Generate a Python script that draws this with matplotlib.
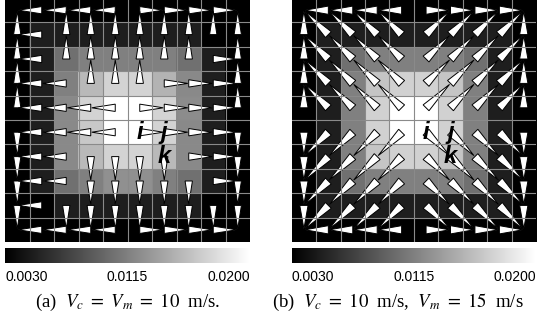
import numpy as np
import matplotlib.pyplot as plt
from matplotlib.patches import Polygon
from matplotlib.colors import Normalize
import matplotlib.cm as cm

plt.rcParams['mathtext.fontset'] = 'stix'

# per-cell values (row 0 = top), read from the grey levels
load_a = [
    [0.0030] * 10,
    [0.0030, 0.0050, 0.0050, 0.0050, 0.0050, 0.0050, 0.0050, 0.0050, 0.0030, 0.0030],
    [0.0030, 0.0050, 0.0105, 0.0115, 0.0115, 0.0115, 0.0115, 0.0105, 0.0050, 0.0030],
    [0.0030, 0.0050, 0.0115, 0.0153, 0.0171, 0.0171, 0.0150, 0.0121, 0.0050, 0.0030],
    [0.0030, 0.0050, 0.0121, 0.0171, 0.0200, 0.0200, 0.0171, 0.0123, 0.0050, 0.0030],
    [0.0030, 0.0050, 0.0121, 0.0163, 0.0200, 0.0200, 0.0171, 0.0121, 0.0050, 0.0030],
    [0.0030, 0.0050, 0.0121, 0.0153, 0.0171, 0.0171, 0.0153, 0.0121, 0.0050, 0.0030],
    [0.0030, 0.0050, 0.0105, 0.0115, 0.0126, 0.0126, 0.0115, 0.0105, 0.0050, 0.0030],
    [0.0030, 0.0030, 0.0050, 0.0050, 0.0050, 0.0050, 0.0050, 0.0050, 0.0030, 0.0030],
    [0.0030] * 10,
]
load_b = [
    [0.0030] * 10,
    [0.0030, 0.0050, 0.0050, 0.0050, 0.0050, 0.0050, 0.0050, 0.0050, 0.0050, 0.0030],
    [0.0030, 0.0050, 0.0105, 0.0115, 0.0115, 0.0115, 0.0115, 0.0105, 0.0050, 0.0030],
    [0.0030, 0.0050, 0.0115, 0.0161, 0.0169, 0.0169, 0.0161, 0.0115, 0.0050, 0.0030],
    [0.0030, 0.0050, 0.0115, 0.0169, 0.0200, 0.0200, 0.0169, 0.0115, 0.0050, 0.0030],
    [0.0030, 0.0050, 0.0115, 0.0169, 0.0200, 0.0200, 0.0169, 0.0115, 0.0050, 0.0030],
    [0.0030, 0.0050, 0.0115, 0.0161, 0.0169, 0.0169, 0.0161, 0.0115, 0.0050, 0.0030],
    [0.0030, 0.0050, 0.0105, 0.0115, 0.0115, 0.0115, 0.0115, 0.0105, 0.0050, 0.0030],
    [0.0030, 0.0050, 0.0050, 0.0050, 0.0050, 0.0050, 0.0050, 0.0050, 0.0050, 0.0030],
    [0.0030] * 10,
]

# next hop of every cell: L R U D, numpad digits for diagonals, '.' = sink
dirs_a = [
    ".LLLLRRRR.",
    "ULUUUUUUUU",
    "ULUUUUUURU",
    "ULLUUURRRU",
    "ULLLLRRRRU",
    "DLLLLRRRRD",
    "DLLDDDDRRD",
    "DLLDDDDDRD",
    "DLDDDDDDDD",
    ".LLLLRRRR.",
]
dirs_b = [
    ".LLLLRRRR.",
    "U77779999U",
    "U77779999U",
    "U77779999U",
    "U77779999U",
    "D11113333D",
    "D11113333D",
    "D11113333D",
    "D11113333D",
    ".LLLLRRRR.",
]

ticks = [0.0030, 0.0115, 0.0200]
tick_labels = ['0.0030', '0.0115', '0.0200']
captions = [r'(a)  $V_c\ =\ V_m\ =\ 10$  m/s.', r'(b)  $V_c\ =\ 10$  m/s,  $V_m\ =\ 15$  m/s']
node_names = ['i', 'j', 'k']
node_cells = [(5, 5), (5, 6), (6, 6)]
vmin, vmax = 0.003, 0.02

STEP = {'L': (-1, 0), 'R': (1, 0), 'U': (0, -1), 'D': (0, 1),
        '7': (-1, -1), '9': (1, -1), '1': (-1, 1), '3': (1, 1)}

W, H = 539, 328
fig = plt.figure(figsize=(W / 100, H / 100), dpi=100)


def box(x0, y0, x1, y1):
    # pixel box (top-left origin) -> figure fraction
    return [x0 / W, 1 - y1 / H, (x1 - x0) / W, (y1 - y0) / H]


def draw_panel(ax, vals, dirs, hw):
    ax.imshow(np.array(vals), cmap='gray', vmin=vmin, vmax=vmax,
              interpolation='nearest', extent=(-0.5, 9.5, 9.5, -0.5), aspect='auto')
    for k in range(1, 10):
        ax.axvline(k - 0.5, color='#8a8a8a', lw=0.8)
        ax.axhline(k - 0.5, color='#8a8a8a', lw=0.8)
    for r, row in enumerate(dirs):
        for c, d in enumerate(row):
            if d == '.':
                continue
            dx, dy = STEP[d]
            n = np.hypot(dx, dy)
            px, py = -dy / n * hw, dx / n * hw
            tip = (c + dx * 0.96, r + dy * 0.96)
            verts = [(c + px, r + py), tip, (c - px, r - py)]
            ax.add_patch(Polygon(verts, closed=True, fc='white', ec='black', lw=0.7))
    for name, (r, c) in zip(node_names, node_cells):
        ax.text(c, r, name, ha='center', va='center', fontsize=17,
                fontweight='bold', fontstyle='italic', family='Liberation Sans')
    ax.set_xlim(-0.5, 9.5)
    ax.set_ylim(9.5, -0.5)
    ax.axis('off')


def draw_cbar(x0, x1):
    cax = fig.add_axes(box(x0, 248, x1, 263))
    sm = cm.ScalarMappable(norm=Normalize(vmin, vmax), cmap='gray')
    cb = fig.colorbar(sm, cax=cax, orientation='horizontal')
    cb.outline.set_visible(False)
    cb.set_ticks(ticks, labels=tick_labels)
    cax.tick_params(length=0, pad=5, labelsize=10)
    labs = cax.get_xticklabels()
    for t in labs:
        t.set_family('Liberation Sans')
    labs[0].set_ha('left')
    labs[-1].set_ha('right')


ax_a = fig.add_axes(box(5, -2, 250, 242))
draw_panel(ax_a, load_a, dirs_a, 0.15)
ax_b = fig.add_axes(box(291.7, -2, 536, 242))
draw_panel(ax_b, load_b, dirs_b, 0.17)

draw_cbar(5, 250)
draw_cbar(291.7, 536)

fig.text(127.5 / W, 1 - 302 / H, captions[0], ha='center', va='center',
         fontsize=13.5, family='Liberation Serif')
fig.text(272 / W, 1 - 302 / H, captions[1], ha='left', va='center',
         fontsize=13.5, family='Liberation Serif')

fig.savefig('out.png', dpi=100)
